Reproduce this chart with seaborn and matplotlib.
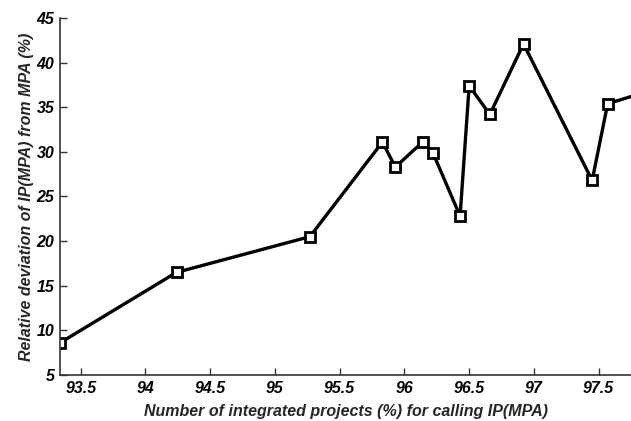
import matplotlib
matplotlib.use("Agg")
import matplotlib.pyplot as plt
import seaborn as sns
import pandas as pd

x_vals = [93.34, 94.24, 95.27, 95.83, 95.93, 96.14, 96.22, 96.43, 96.50, 96.66, 96.92, 97.45, 97.57, 98.00]
y_vals = [8.6, 16.5, 20.5, 31.1, 28.3, 31.1, 29.9, 22.8, 37.4, 34.2, 42.1, 26.8, 35.4, 37.3]
x_ticks = [93.5, 94, 94.5, 95, 95.5, 96, 96.5, 97, 97.5]
y_ticks = [5, 10, 15, 20, 25, 30, 35, 40, 45]
x_label = "Number of integrated projects (%) for calling IP(MPA)"
y_label = "Relative deviation of IP(MPA) from MPA (%)"

sns.set_style("white")
plt.rcParams['font.family'] = ['Liberation Sans', 'DejaVu Sans']

df = pd.DataFrame({"x": x_vals, "y": y_vals})

fig = plt.figure(figsize=(6.31, 4.21), dpi=100)
ax = fig.add_axes([60/631, 46/421, 1 - 60/631, (375-18)/421])

sns.lineplot(data=df, x="x", y="y", sort=False, ax=ax, color="black",
             linewidth=2.4, marker="s", markersize=6.5, markerfacecolor="white",
             markeredgecolor="black", markeredgewidth=2.0, clip_on=True)

ax.set_xlim(93.34, 97.75)
ax.set_ylim(5, 45)
ax.set_xticks(x_ticks)
ax.set_xticklabels([f"{t:g}" for t in x_ticks])
ax.set_yticks(y_ticks)
ax.set_yticklabels([f"{t:g}" for t in y_ticks])

for s in ["top", "right"]:
    ax.spines[s].set_visible(False)
for s in ["left", "bottom"]:
    ax.spines[s].set_color("#333333")
    ax.spines[s].set_linewidth(1.2)

ax.tick_params(bottom=True, left=True, direction="in", length=5, width=1,
               colors="#333333", labelcolor="black", labelsize=11.5, pad=4)
for lab in ax.get_xticklabels() + ax.get_yticklabels():
    lab.set_fontweight("bold")
    lab.set_fontstyle("italic")

ax.set_xlabel(x_label, fontsize=11.5, fontweight="bold", fontstyle="italic", labelpad=6)
ax.set_ylabel(y_label, fontsize=11.5, fontweight="bold", fontstyle="italic", labelpad=2)

fig.savefig("out.png", dpi=100)
